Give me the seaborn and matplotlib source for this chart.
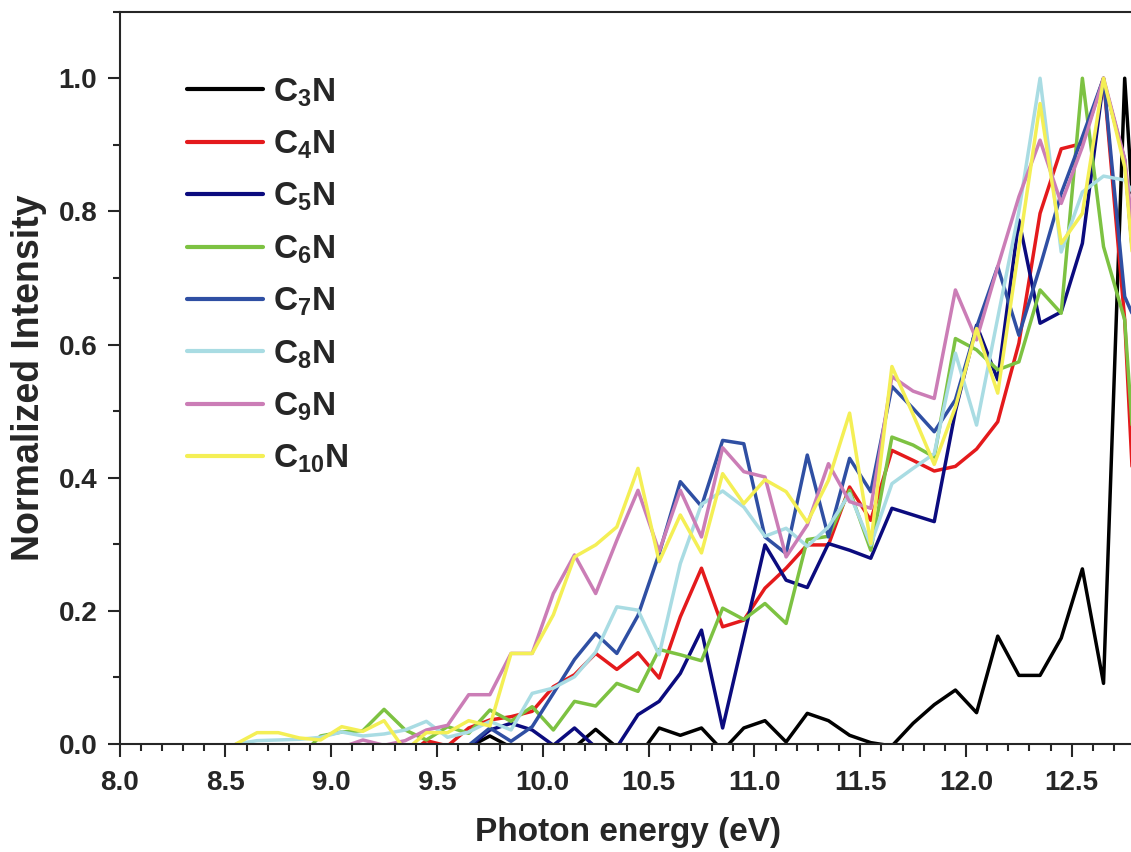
import numpy as np
import pandas as pd
import seaborn as sns
import matplotlib.pyplot as plt
from matplotlib.ticker import MultipleLocator

# photon energy grid (eV)
energy = [8.55, 8.65, 8.75, 8.85, 8.95, 9.05, 9.15, 9.25, 9.35, 9.45, 9.55,
          9.65, 9.75, 9.85, 9.95, 10.05, 10.15, 10.25, 10.35, 10.45, 10.55,
          10.65, 10.75, 10.85, 10.95, 11.05, 11.15, 11.25, 11.35, 11.45, 11.55,
          11.65, 11.75, 11.85, 11.95, 12.05, 12.15, 12.25, 12.35, 12.45, 12.55,
          12.65, 12.75, 12.85]

c3n = [-0.02, -0.02, -0.02, -0.02, -0.02, -0.02, -0.02, -0.02, -0.02, -0.02, -0.02,
       -0.005, 0.012, -0.005, -0.02, -0.02, -0.005, 0.022, -0.005, -0.02, 0.024,
       0.013, 0.024, -0.01, 0.024, 0.035, 0.003, 0.046, 0.035, 0.013, 0.002,
       -0.003, 0.031, 0.059, 0.081, 0.047, 0.162, 0.103, 0.103, 0.159, 0.263,
       0.091, 1.0, 0.5]
c4n = [-0.02, -0.02, -0.02, -0.02, -0.02, -0.02, -0.02, -0.02, -0.02, 0.005, -0.003,
       0.024, 0.036, 0.041, 0.049, 0.086, 0.104, 0.136, 0.112, 0.137, 0.099,
       0.191, 0.264, 0.176, 0.186, 0.234, 0.264, 0.299, 0.299, 0.386, 0.336,
       0.441, 0.426, 0.410, 0.417, 0.443, 0.484, 0.602, 0.797, 0.894, 0.902,
       1.0, 0.637, 0.0]
c5n = [-0.02, -0.02, -0.02, -0.02, -0.02, -0.005, -0.02, -0.02, -0.02, -0.02, -0.02,
       -0.005, 0.021, 0.031, 0.021, -0.002, 0.024, -0.005, -0.005, 0.044, 0.064,
       0.106, 0.171, 0.024, 0.161, 0.299, 0.246, 0.235, 0.301, 0.291, 0.279,
       0.354, 0.344, 0.334, 0.500, 0.629, 0.547, 0.787, 0.632, 0.649, 0.752,
       0.997, 0.877, 0.5]
c6n = [-0.02, -0.02, -0.02, -0.02, 0.012, 0.018, 0.020, 0.052, 0.021, 0.006, 0.026,
       0.016, 0.051, 0.034, 0.056, 0.021, 0.064, 0.057, 0.091, 0.079, 0.142,
       0.134, 0.125, 0.204, 0.187, 0.211, 0.181, 0.307, 0.312, 0.381, 0.291,
       0.461, 0.449, 0.431, 0.609, 0.592, 0.562, 0.574, 0.682, 0.647, 1.0,
       0.747, 0.637, 0.18]
c7n = [-0.02, -0.02, -0.02, -0.02, -0.02, -0.02, -0.02, -0.02, -0.02, -0.02, -0.02,
       -0.002, 0.024, 0.004, 0.026, 0.076, 0.127, 0.166, 0.136, 0.193, 0.286,
       0.394, 0.357, 0.456, 0.451, 0.311, 0.286, 0.434, 0.311, 0.429, 0.379,
       0.537, 0.504, 0.469, 0.517, 0.626, 0.717, 0.614, 0.717, 0.827, 0.912,
       1.0, 0.672, 0.6]
c8n = [0.0, 0.005, 0.006, 0.007, 0.010, 0.018, 0.012, 0.015, 0.021, 0.034, 0.010,
       0.018, 0.034, 0.021, 0.076, 0.084, 0.101, 0.138, 0.206, 0.201, 0.134,
       0.271, 0.360, 0.380, 0.356, 0.312, 0.324, 0.297, 0.326, 0.376, 0.299,
       0.391, 0.414, 0.436, 0.587, 0.479, 0.640, 0.800, 1.0, 0.739, 0.829,
       0.853, 0.847, 0.8]
c9n = [-0.02, -0.02, -0.02, -0.02, -0.02, -0.005, 0.006, -0.002, 0.005, 0.021, 0.028,
       0.074, 0.074, 0.136, 0.136, 0.226, 0.284, 0.226, 0.306, 0.381, 0.289,
       0.381, 0.311, 0.445, 0.409, 0.401, 0.281, 0.329, 0.421, 0.364, 0.354,
       0.552, 0.530, 0.519, 0.682, 0.607, 0.717, 0.822, 0.907, 0.812, 0.897,
       1.0, 0.879, 0.6]
c10n = [0.0, 0.017, 0.017, 0.009, 0.006, 0.026, 0.019, 0.035, -0.01, 0.017, 0.017,
        0.035, 0.027, 0.136, 0.136, 0.194, 0.281, 0.299, 0.326, 0.414, 0.274,
        0.344, 0.287, 0.406, 0.361, 0.397, 0.379, 0.333, 0.396, 0.497, 0.301,
        0.567, 0.495, 0.420, 0.506, 0.624, 0.527, 0.745, 0.962, 0.752, 0.797,
        1.0, 0.867, 0.5]

labels = ['C$_3$N', 'C$_4$N', 'C$_5$N', 'C$_6$N', 'C$_7$N', 'C$_8$N', 'C$_9$N', 'C$_{10}$N']
colors = ['#000000', '#E41A1C', '#0B0B7E', '#7DC242', '#2F4FA3', '#A9DCE3', '#CB7DB6', '#F4EF55']
series = [c3n, c4n, c5n, c6n, c7n, c8n, c9n, c10n]

df = pd.concat([pd.DataFrame({'energy': energy, 'intensity': s, 'species': lab})
                for s, lab in zip(series, labels)], ignore_index=True)

sns.set_style('ticks')
plt.rcParams['font.family'] = ['Liberation Sans', 'DejaVu Sans']
plt.rcParams['font.weight'] = 'bold'
plt.rcParams['mathtext.fontset'] = 'custom'
plt.rcParams['mathtext.rm'] = 'Liberation Sans:bold'
plt.rcParams['mathtext.bf'] = 'Liberation Sans:bold'
plt.rcParams['mathtext.default'] = 'bf'

fig = plt.figure(figsize=(11.31, 8.52), dpi=100)
# axes runs just past the right edge of the figure, as in the original crop
ax = fig.add_axes([0.1057, 0.1268, 1017 / 1131, 0.8595])

sns.lineplot(data=df, x='energy', y='intensity', hue='species',
             palette=dict(zip(labels, colors)), hue_order=labels,
             estimator=None, sort=False, linewidth=2.5, ax=ax)

ax.set_xlim(8.0, 12.806)
ax.set_ylim(0, 1.1)
ax.xaxis.set_major_locator(MultipleLocator(0.5))
ax.xaxis.set_minor_locator(MultipleLocator(0.1))
ax.yaxis.set_major_locator(MultipleLocator(0.2))
ax.yaxis.set_minor_locator(MultipleLocator(0.1))
ax.xaxis.set_major_formatter(plt.FormatStrFormatter('%.1f'))
ax.yaxis.set_major_formatter(plt.FormatStrFormatter('%.1f'))
ax.tick_params(which='major', direction='out', length=9, width=1.5, labelsize=20)
ax.tick_params(which='minor', direction='out', length=5, width=1.5)
ax.tick_params(axis='x', which='major', pad=10)
ax.tick_params(axis='y', which='major', pad=7)
for sp in ax.spines.values():
    sp.set_linewidth(1.5)
    sp.set_visible(True)

ax.set_xlabel('Photon energy (eV)', fontsize=24, fontweight='bold', labelpad=15)
ax.set_ylabel('Normalized Intensity', fontsize=27, fontweight='bold', labelpad=8)

leg = ax.legend(loc='upper left', bbox_to_anchor=(0.066, 0.912), frameon=False,
                fontsize=24, handlelength=2.3, handletextpad=0.3,
                labelspacing=0.6, borderpad=0, borderaxespad=0)
for line in leg.get_lines():
    line.set_linewidth(3)

fig.savefig('out.png', dpi=100)
